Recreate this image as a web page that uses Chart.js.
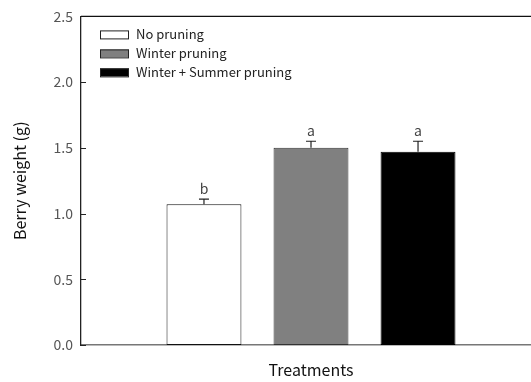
<!DOCTYPE html>
<html>
<head>
<meta charset="utf-8">
<script src="https://cdn.jsdelivr.net/npm/chart.js@4.4.1/dist/chart.umd.min.js"></script>
<style>
  html, body { margin: 0; padding: 0; background: #fff; overflow: hidden; }
  #wrap { width: 545px; height: 382px; }
</style>
</head>
<body>
<div id="wrap"><canvas id="c" width="545" height="382"></canvas></div>
<script>
// Berry weight by pruning treatment (mean ± SE, letters = significance groups)
const categories = ['Treatments'];
const treatments = ['No pruning', 'Winter pruning', 'Winter + Summer pruning'];
const berryWeight = [1.07, 1.50, 1.47];
const standardError = [0.04, 0.05, 0.08];
const groupLetters = ['b', 'a', 'a'];
const yTickValues = [0.0, 0.5, 1.0, 1.5, 2.0, 2.5];

const fills = ['#ffffff', '#808080', '#000000'];
const borders = ['#111111', '#333333', '#000000'];
const FONT = "'Noto Sans CJK KR', 'Noto Sans', sans-serif";

const datasets = treatments.map((name, i) => ({
  label: name,
  data: [berryWeight[i]],
  backgroundColor: fills[i],
  borderColor: borders[i],
  borderWidth: 1,
  borderSkipped: false,
  categoryPercentage: 0.698,
  barPercentage: 0.70
}));

// Error bars, letters, inward ticks, frame and legend
const decorations = {
  id: 'decorations',
  afterDatasetsDraw(chart) {
    const ctx = chart.ctx;
    const y = chart.scales.y;
    const area = chart.chartArea;
    ctx.save();

    // error bars + significance letters
    chart.data.datasets.forEach((ds, i) => {
      const bar = chart.getDatasetMeta(i).data[0];
      const top = y.getPixelForValue(berryWeight[i] + standardError[i]);
      ctx.strokeStyle = '#222';
      ctx.lineWidth = 1.2;
      ctx.beginPath();
      ctx.moveTo(bar.x, bar.y);
      ctx.lineTo(bar.x, top);
      ctx.moveTo(bar.x - 5, top);
      ctx.lineTo(bar.x + 5, top);
      ctx.stroke();
      ctx.fillStyle = '#444';
      ctx.font = '14px ' + FONT;
      ctx.textAlign = 'center';
      ctx.textBaseline = 'alphabetic';
      ctx.fillText(groupLetters[i], bar.x, top - 5);
    });

    // inward tick marks on the value axis
    ctx.strokeStyle = '#222';
    ctx.lineWidth = 1;
    yTickValues.forEach(v => {
      const py = Math.round(y.getPixelForValue(v)) + 0.5;
      ctx.beginPath();
      ctx.moveTo(area.left, py);
      ctx.lineTo(area.left + 5, py);
      ctx.stroke();
    });

    // top frame line
    ctx.strokeStyle = '#111';
    ctx.lineWidth = 1.3;
    ctx.beginPath();
    ctx.moveTo(area.left, area.top);
    ctx.lineTo(area.right, area.top);
    ctx.stroke();

    // legend inside the plot
    ctx.font = '13px ' + FONT;
    ctx.textAlign = 'left';
    ctx.textBaseline = 'middle';
    chart.data.datasets.forEach((ds, i) => {
      const cy = area.top + 18 + i * 19;
      const bx = area.left + 19;
      ctx.fillStyle = ds.backgroundColor;
      ctx.fillRect(bx, cy - 4, 29, 8);
      ctx.strokeStyle = '#222';
      ctx.lineWidth = 1;
      ctx.strokeRect(bx + 0.5, cy - 4 + 0.5, 28, 8);
      ctx.fillStyle = '#222';
      ctx.fillText(ds.label, bx + 36, cy);
    });
    ctx.restore();
  }
};

new Chart(document.getElementById('c'), {
  type: 'bar',
  data: { labels: categories, datasets },
  options: {
    responsive: false,
    animation: false,
    layout: { padding: { top: 14, right: 4, left: 0, bottom: 0 } },
    plugins: { legend: { display: false }, tooltip: { enabled: false } },
    scales: {
      x: {
        grid: { display: false, drawTicks: false },
        border: { display: true, color: '#777', width: 1.5 },
        ticks: { display: false },
        title: {
          display: true,
          text: 'Treatments',
          color: '#111',
          font: { family: FONT, size: 16 },
          padding: { top: 0, bottom: 2 }
        },
        afterFit(scale) { scale.height = 37; }
      },
      y: {
        min: 0,
        max: 2.5,
        afterBuildTicks(scale) { scale.ticks = yTickValues.map(v => ({ value: v })); },
        grid: { display: false, drawTicks: false },
        border: { display: true, color: '#222', width: 1.3 },
        ticks: {
          color: '#555',
          padding: 8,
          font: { family: FONT, size: 14 },
          callback: v => v.toFixed(1)
        },
        title: {
          display: true,
          text: 'Berry weight (g)',
          color: '#111',
          font: { family: FONT, size: 16 },
          padding: { top: 10, bottom: 0 }
        },
        afterFit(scale) { scale.width = 81; }
      }
    }
  },
  plugins: [decorations]
});
</script>
</body>
</html>
